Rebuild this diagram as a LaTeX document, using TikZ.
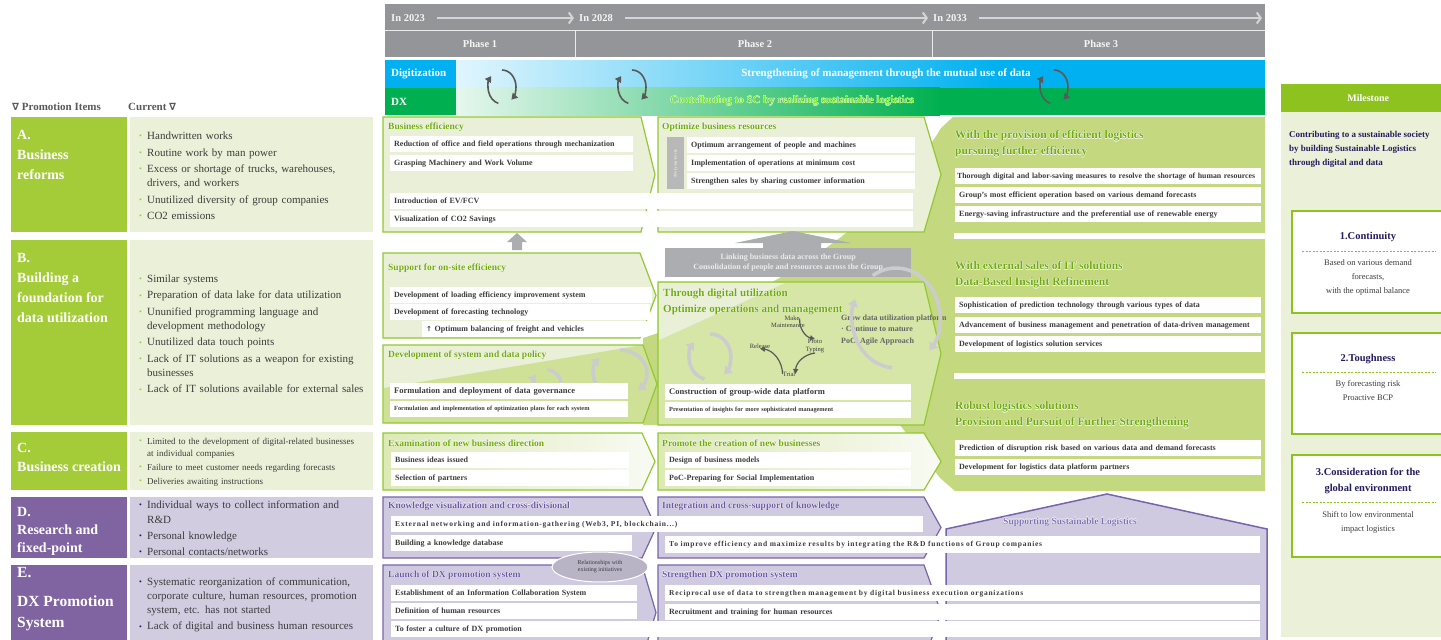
\documentclass[tikz,border=0pt]{standalone}
\usepackage{fontspec}
\setmainfont{Liberation Serif}
\newfontfamily\symfont{DejaVu Sans}
\newfontfamily\spfont[LetterSpace=10]{Liberation Serif}
\usetikzlibrary{arrows.meta,shapes.geometric}
\definecolor{hdrgray}{RGB}{147,149,152}
\definecolor{tlgray}{RGB}{212,213,215}
\definecolor{digblue}{RGB}{0,176,240}
\definecolor{dxgreen}{RGB}{0,176,80}
\definecolor{dxtxt}{RGB}{110,230,50}
\definecolor{labgreen}{RGB}{164,204,57}
\definecolor{curgreen}{RGB}{235,241,216}
\definecolor{labpurple}{RGB}{128,100,162}
\definecolor{curpurple}{RGB}{209,204,224}
\definecolor{pangreen}{RGB}{233,240,215}
\definecolor{darkpan}{RGB}{206,225,150}
\definecolor{edgegreen}{RGB}{146,200,50}
\definecolor{titgreen}{RGB}{112,170,14}
\definecolor{p3green}{RGB}{196,217,127}
\definecolor{panpurple}{RGB}{207,202,224}
\definecolor{edgepurple}{RGB}{120,100,170}
\definecolor{titpurple}{RGB}{108,86,165}
\definecolor{msgreen}{RGB}{141,194,31}
\definecolor{navy}{RGB}{36,28,96}
\definecolor{txtgray}{RGB}{60,60,60}
\definecolor{ringgray}{RGB}{204,204,207}
\definecolor{arrgray}{RGB}{172,173,176}
\tikzstyle{hdr}=[inner sep=0, text=white!96!black, font=\fontsize{10.5}{12}\selectfont\bfseries]
\tikzstyle{tline}=[tlgray, line width=2pt, -{Straight Barb[length=4pt,width=11pt]}]
\tikzstyle{rowtag}=[anchor=north west, inner xsep=6pt, inner ysep=0, text width=59pt, minimum height=27.5pt, align=left, text=white, font=\fontsize{11}{12}\selectfont\bfseries]
\tikzstyle{rowlab}=[anchor=north west, inner sep=0, align=left, text=white, font=\fontsize{14}{20}\selectfont\bfseries]
\tikzstyle{cur}=[anchor=west, inner sep=0, text width=228pt, align=left, text=txtgray, font=\fontsize{11}{14}\selectfont, execute at begin node={\setlength{\parskip}{2.5pt}}]
\tikzstyle{panel}=[draw=edgegreen, line width=1.2pt]
\tikzstyle{ppanel}=[draw=edgepurple, line width=1.2pt, fill=panpurple]
\tikzstyle{ttl}=[anchor=west, inner sep=0, text=titgreen, font=\fontsize{9.5}{11}\selectfont\bfseries]
\tikzstyle{bigttl}=[anchor=west, inner sep=0, align=left, text=titgreen, font=\fontsize{11.5}{16}\selectfont\bfseries]
\tikzstyle{ring}=[ringgray, line width=3.5pt, -{Triangle[length=7pt,width=10pt]}]
\tikzstyle{icon}=[black!65, line width=1.6pt, -{Triangle[length=6pt,width=7pt]}]
\tikzstyle{cyc}=[black!65, line width=1.2pt, -{Triangle[length=5pt,width=5pt]}]
\tikzstyle{tiny}=[inner sep=0, text=txtgray, align=center, font=\fontsize{6.5}{8}\selectfont]
\tikzstyle{msbox}=[draw=msgreen, line width=2pt, fill=white]
\tikzstyle{mshead}=[text=navy, align=center, font=\fontsize{10.5}{16}\selectfont\bfseries]
\tikzstyle{mstext}=[text=txtgray, align=center, font=\fontsize{8.5}{14}\selectfont]
\tikzset{wbox/.style={fill=white, anchor=north west, inner xsep=4pt, inner ysep=0pt, minimum height=16pt, text width=#1, align=left, text=txtgray, font=\fontsize{8}{9}\selectfont\bfseries}}
\newcommand{\glow}[1]{\leavevmode\rlap{\textcolor{white}{\kern-.3pt#1}}\rlap{\textcolor{white}{\kern.3pt#1}}\rlap{\textcolor{white}{\raisebox{.3pt}{#1}}}\rlap{\textcolor{white}{\raisebox{-.3pt}{#1}}}#1}
\newcommand{\bul}[2]{\par\hangindent=8pt\hangafter=1\noindent\makebox[8pt][l]{\textcolor{#1}{\raisebox{.8pt}{\fontsize{8}{8}\selectfont\textbullet}}}#2}
\newcommand{\chevron}[6]{\path[#1] (#2,#3) -- (#4,#3) -- (#5,{(#3+#6)/2}) -- (#4,#6) -- (#2,#6) -- cycle;}
\newcommand{\twirl}[5]{%
  \draw[#1] (#2,#3) ++(255:#4pt and #5pt) arc[start angle=255, end angle=140, x radius=#4pt, y radius=#5pt];
  \draw[#1] (#2,#3) ++(90:#4pt and #5pt) arc[start angle=90, end angle=-48, x radius=#4pt, y radius=#5pt];}

\begin{document}
\begin{tikzpicture}[x=1pt,y=-1pt]
\useasboundingbox (0,0) rectangle (1441,640);

% time line and phases
\fill[hdrgray] (385,4) rectangle (1265,57);
\draw[white!80!hdrgray, line width=1.2pt] (385,30.5) -- (1265,30.5);
\draw[white!80!hdrgray, line width=.8pt] (575,31) -- (575,57) (932,31) -- (932,57);
\node[hdr, anchor=west] (y23) at (391,18) {In 2023};
\node[hdr, anchor=west] (y28) at (579,18) {In 2028};
\node[hdr, anchor=west] (y33) at (933,18) {In 2033};
\coordinate (yend) at (1262,18);
\draw[tline] ([xshift=12pt]y23.east) -- ([xshift=-5pt]y28.west);
\draw[tline] ([xshift=12pt]y28.east) -- ([xshift=-5pt]y33.west);
\draw[tline] ([xshift=12pt]y33.east) -- (yend);
\node[hdr] (ph1) at (480,44) {Phase 1};
\node[hdr] (ph2) at (755,44) {Phase 2};
\node[hdr] (ph3) at (1101,44) {Phase 3};

% digitization and DX bands
\shade[left color=digblue!12, right color=digblue] (456,60) rectangle (1000,87.5);
\fill[digblue] (1000,60) rectangle (1265,87.5);
\shade[left color=dxgreen!10, right color=dxgreen] (456,87.5) rectangle (940,115);
\fill[dxgreen] (940,87.5) rectangle (1265,115);
\node[rowtag, fill=digblue] (dig) at (385,60) {Digitization};
\node[rowtag, fill=dxgreen] (dx) at (385,87.5) {DX};
\node[text=white, font=\fontsize{11}{12}\selectfont\bfseries] (digtxt) at (886,74) {Strengthening of management through the mutual use of data};
\node[text=dxtxt, font=\fontsize{11}{12}\selectfont\bfseries] (dxtxt) at (792,101) {\glow{Contributing to SC by realizing sustainable logistics}};
\twirl{icon}{502}{87}{14}{17}
\twirl{icon}{632}{87}{14}{17}
\twirl{icon}{1054}{87}{14}{17}

% promotion items
\node[anchor=west, inner sep=0, text=black!65, font=\fontsize{11}{12}\selectfont\bfseries] (hitems) at (12,107) {{\symfont\fontsize{10}{12}\selectfont∇} Promotion Items};
\node[anchor=west, inner sep=0, text=black!65, font=\fontsize{11}{12}\selectfont\bfseries] (hcur) at (128,107) {Current {\symfont\fontsize{10}{12}\selectfont∇}};
\fill[labgreen] (11,117) rectangle (127,232);
\fill[curgreen] (130,117) rectangle (373,232);
\fill[labgreen] (11,240) rectangle (127,425);
\fill[curgreen] (130,240) rectangle (373,425);
\fill[labgreen] (11,432) rectangle (127,490);
\fill[curgreen] (130,432) rectangle (373,490);
\fill[labpurple] (11,497) rectangle (127,558);
\fill[curpurple] (130,497) rectangle (373,558);
\fill[labpurple] (11,565) rectangle (127,645);
\fill[curpurple] (130,565) rectangle (373,645);
\node[rowlab] (la) at (17,130) {A.\\Business\\reforms};
\node[rowlab] (lb) at (17,253) {B.\\Building a\\foundation for\\data utilization};
\node[rowlab] (lc) at (17,443) {C.\\[-1pt]Business creation};
\node[rowlab, font=\fontsize{14}{18}\selectfont\bfseries] (ld) at (17,507) {D.\\Research and\\fixed-point};
\node[rowlab, font=\fontsize{15.5}{21}\selectfont\bfseries] (le) at (17,567) {E.\\[8pt]DX Promotion\\System};

\node[cur] (ca) at (139,171.5) {\bul{labgreen}{Handwritten works}\bul{labgreen}{Routine work by man power}\bul{labgreen}{Excess or shortage of trucks, warehouses,\newline drivers, and workers}\bul{labgreen}{Unutilized diversity of group companies}\bul{labgreen}{CO2 emissions}};
\node[cur] (cb) at (139,329.5) {\bul{labgreen}{Similar systems}\bul{labgreen}{Preparation of data lake for data utilization}\bul{labgreen}{Ununified programming language and\newline development methodology}\bul{labgreen}{Unutilized data touch points}\bul{labgreen}{Lack of IT solutions as a weapon for existing\newline businesses}\bul{labgreen}{Lack of IT solutions available for external sales}};
\node[cur, font=\fontsize{9}{12}\selectfont, execute at begin node={\setlength{\parskip}{2pt}}] (cc) at (139,458.5) {\bul{labgreen}{Limited to the development of digital-related businesses\newline at individual companies}\bul{labgreen}{Failure to meet customer needs regarding forecasts}\bul{labgreen}{Deliveries awaiting instructions}};
\node[cur, font=\fontsize{11}{14.5}\selectfont, execute at begin node={\setlength{\parskip}{1.5pt}}] (cd) at (139,524) {\bul{navy}{Individual ways to collect information and\newline R\&D}\bul{navy}{Personal knowledge}\bul{navy}{Personal contacts/networks}};
\node[cur, font=\fontsize{11}{14}\selectfont] (ce) at (139,600.5) {\bul{navy}{Systematic reorganization of communication,\newline corporate culture, human resources, promotion\newline system, etc. has not started}\bul{navy}{Lack of digital and business human resources}};

% phase 3 background
\fill[p3green] (643,425) -- (643,338) .. controls (760,300) and (880,230) .. (941,128) -- (953,117) -- (1265,117) -- (1265,491) -- (955,491) -- (940,478) -- (900,425) -- cycle;
\fill[white] (954,233) rectangle (1265,239);
\fill[white] (954,373) rectangle (1265,379);
\draw[ppanel, line width=1.5pt] (946,650) -- (946,529) -- (1107,494) -- (1267,529) -- (1267,650);

% phase panels
\chevron{panel, fill=pangreen}{383}{117}{641}{655}{232}
\chevron{panel, fill=pangreen}{658}{117}{924}{941}{232}
\chevron{panel, fill=pangreen}{383}{253}{640}{656}{338}
\chevron{fill=pangreen}{383}{345}{643}{657}{423}
\fill[darkpan] (384,388) -- (643,345) -- (657,384) -- (643,423) -- (384,423) -- cycle;
\chevron{panel}{383}{345}{643}{657}{423}
\chevron{fill=darkpan!85!white}{658}{282}{924}{941}{425}
\fill[pangreen] (659,283) -- (785,283) -- (659,340) -- cycle;
\chevron{panel}{658}{282}{924}{941}{425}
\chevron{panel, left color=darkpan!70!white, right color=white!70!pangreen}{383}{433}{642}{655}{490}
\chevron{panel, left color=darkpan!70!white, right color=white!70!pangreen}{658}{433}{924}{941}{490}
\chevron{ppanel}{383}{497}{642}{656}{558}
\chevron{ppanel}{658}{497}{924}{941}{558}
\chevron{ppanel}{383}{565}{642}{656}{660}
\chevron{ppanel}{658}{565}{924}{941}{660}

% rings behind the boxes
\twirl{ring}{547}{384}{14}{14}
\twirl{ring}{620}{373}{27}{23}
\twirl{ring}{710}{357}{21}{23}

% panel titles
\node[ttl] (t1a) at (388,127) {\glow{Business efficiency}};
\node[ttl] (t2a) at (662,127) {\glow{Optimize business resources}};
\node[ttl] (t1b) at (388,268) {\glow{Support for on-site efficiency}};
\node[ttl] (t1c) at (388,355) {\glow{Development of system and data policy}};
\node[bigttl, font=\fontsize{11}{16}\selectfont\bfseries] (t2b) at (663,302) {\glow{Through digital utilization}\\\glow{Optimize operations and management}};
\node[ttl] (t1d) at (388,443) {\glow{Examination of new business direction}};
\node[ttl] (t2d) at (662,443) {\glow{Promote the creation of new businesses}};
\node[ttl, text=titpurple] (t1e) at (388,506) {\glow{Knowledge visualization and cross-divisional}};
\node[ttl, text=titpurple] (t2e) at (662,506) {\glow{Integration and cross-support of knowledge}};
\node[ttl, text=titpurple] (t1f) at (388,575) {\glow{Launch of DX promotion system}};
\node[ttl, text=titpurple] (t2f) at (662,575) {\glow{Strengthen DX promotion system}};
\node[bigttl] (t3a) at (955,144) {\glow{With the provision of efficient logistics}\\\glow{pursuing further efficiency}};
\node[bigttl] (t3b) at (955,275) {\glow{With external sales of IT solutions}\\\glow{Data-Based Insight Refinement}};
\node[bigttl] (t3c) at (955,415) {\glow{Robust logistics solutions}\\\glow{Provision and Pursuit of Further Strengthening}};
\node[text=titpurple!85!white, font=\fontsize{9.5}{11}\selectfont\bfseries] (sup) at (1070,522) {\glow{Supporting Sustainable Logistics}};

% row A boxes
\node[wbox=235pt] (a11) at (390,136) {Reduction of office and field operations through mechanization};
\node[wbox=235pt] (a12) at (390,155) {Grasping Machinery and Work Volume};
\node[wbox=515pt] (a13) at (390,193) {Introduction of EV/FCV};
\node[wbox=515pt] (a14) at (390,211) {Visualization of CO2 Savings};
\node[fill=black!28, anchor=north west, minimum width=17, minimum height=52, inner sep=0] (acr) at (667,137) {};
\node[rotate=-90, inner sep=0, text=white, font=\fontsize{4}{4}\selectfont] (acrtxt) at (acr.center) {Across the Group};
\node[wbox=220pt] (a21) at (687,137) {Optimum arrangement of people and machines};
\node[wbox=220pt] (a22) at (687,155) {Implementation of operations at minimum cost};
\node[wbox=220pt] (a23) at (687,173) {Strengthen sales by sharing customer information};
\node[wbox=302pt, inner xsep=2pt, font=\fontsize{7.8}{9}\selectfont\bfseries] (a31) at (955,168) {Thorough digital and labor-saving measures to resolve the shortage of human resources};
\node[wbox=298pt] (a32) at (955,187) {Group's most efficient operation based on various demand forecasts};
\node[wbox=298pt] (a33) at (955,206) {Energy-saving infrastructure and the preferential use of renewable energy};

% row B boxes
\node[wbox=254pt] (b11) at (390,287) {Development of loading efficiency improvement system};
\node[wbox=252pt] (b12) at (390,304) {Development of forecasting technology};
\node[wbox=217pt] (b13) at (422,321) {{\symfont\fontsize{7}{9}\selectfont↑} Optimum balancing of freight and vehicles};
\node[wbox=230pt, font=\fontsize{8.5}{9}\selectfont\bfseries] (b14) at (390,383) {Formulation and deployment of data governance};
\node[wbox=230pt, font=\fontsize{6.3}{8}\selectfont\bfseries] (b15) at (390,401) {Formulation and implementation of optimization plans for each system};
\node[wbox=238pt, font=\fontsize{8.5}{9}\selectfont\bfseries] (b21) at (665,384) {Construction of group-wide data platform};
\node[wbox=238pt, font=\fontsize{6.3}{8}\selectfont\bfseries] (b22) at (665,402) {Presentation of insights for more sophisticated management};
\node[wbox=298pt] (b31) at (955,297) {Sophistication of prediction technology through various types of data};
\node[wbox=298pt] (b32) at (955,317) {Advancement of business management and penetration of data-driven management};
\node[wbox=298pt] (b33) at (955,336) {Development of logistics solution services};

% gray arrows
\fill[arrgray] (512,250) -- (512,242) -- (507,242) -- (517,233) -- (527,242) -- (522,242) -- (522,250) -- cycle;
\fill[arrgray] (763,249) -- (763,243) -- (735,243) -- (793,231) -- (851,243) -- (821,243) -- (821,249) -- cycle;
\node[fill=arrgray, anchor=north west, minimum width=246, minimum height=29, inner sep=0, align=center, text=white!92!black, font=\fontsize{8}{10}\selectfont\bfseries] (link) at (665,248) {Linking business data across the Group\\Consolidation of people and resources across the Group};

% agile cycle
\node[tiny] (make) at (792,318.5) {Make};
\node[tiny] (maint) at (788,325.5) {Maintenance};
\node[tiny] (proto) at (815,346) {Proto\\Typing};
\node[tiny] (trial) at (789,374) {Trial};
\node[tiny] (rel) at (760,346) {Release};
\draw[cyc] (make.east) to[bend right=40] (proto.north);
\draw[cyc] (proto.south) to[bend right=40] (trial.east);
\draw[cyc] (trial.west) to[bend right=40] (rel.south);
\node[anchor=west, inner sep=0, align=left, text=black!60, font=\fontsize{8}{11.5}\selectfont\bfseries] (grow) at (841,330) {Grow data utilization platform\\ \textperiodcentered\ Continue to mature\\PoC/ Agile Approach};
\draw[ring] (896,318) ++(265:44pt and 50pt) arc[start angle=265, end angle=158, x radius=44pt, y radius=50pt];
\draw[ring] (896,318) ++(122:44pt and 50pt) arc[start angle=122, end angle=-40, x radius=44pt, y radius=50pt];

% row C boxes
\node[wbox=230pt] (c11) at (391,452) {Business ideas issued};
\node[wbox=230pt] (c12) at (391,470) {Selection of partners};
\node[wbox=238pt] (c21) at (665,452) {Design of business models};
\node[wbox=238pt] (c22) at (665,470) {PoC-Preparing for Social Implementation};
\node[wbox=298pt] (c31) at (955,440) {Prediction of disruption risk based on various data and demand forecasts};
\node[wbox=298pt] (c32) at (955,459) {Development for logistics data platform partners};

% rows D and E boxes
\node[wbox=524pt, font=\fontsize{7.5}{9}\spfont\bfseries] (d11) at (391,516) {External networking and information-gathering (Web3, PI, blockchain...)};
\node[wbox=233pt] (d12) at (391,535) {Building a knowledge database};
\node[wbox=587pt, minimum height=17pt, font=\fontsize{7.5}{9}\spfont\bfseries] (d21) at (665,536) {To improve efficiency and maximize results by integrating the R\&D functions of Group companies};
\node[ellipse, fill=panpurple!85!black!90!white, draw=white, line width=1pt, minimum width=96, minimum height=30, inner sep=0, align=center, text=txtgray, font=\fontsize{6}{7}\selectfont] (relat) at (600,567) {Relationships with\\existing initiatives};
\node[wbox=238pt] (e11) at (391,585) {Establishment of an Information Collaboration System};
\node[wbox=238pt] (e12) at (391,603) {Definition of human resources};
\node[wbox=861pt] (e13) at (391,621) {To foster a culture of DX promotion};
\node[wbox=587pt, font=\fontsize{7.5}{9}\spfont\bfseries] (e21) at (665,585) {Reciprocal use of data to strengthen management by digital business execution organizations};
\node[wbox=587pt] (e22) at (665,604) {Recruitment and training for human resources};

% milestone
\fill[curgreen] (1281,112) rectangle (1460,637);
\node[fill=msgreen, anchor=north west, minimum width=174, minimum height=28, inner sep=0, text=white, font=\fontsize{10}{12}\selectfont\bfseries] (ms) at (1281,84) {Milestone};
\node[anchor=north west, inner sep=0, align=left, text=navy, font=\fontsize{9}{14}\selectfont\bfseries] (msgoal) at (1289,131) {Contributing to a sustainable society\\by building Sustainable Logistics\\through digital and data};
\draw[msbox] (1292,211) rectangle (1460,313);
\draw[msbox] (1292,333) rectangle (1460,434);
\draw[msbox] (1292,455) rectangle (1460,557);
\draw[msgreen, line width=.8pt, dash pattern=on 2pt off 1.5pt] (1302,251) -- (1436,251) (1302,372) -- (1436,372) (1302,502) -- (1436,502);
\node[mshead] (m1) at (1368,237) {1.Continuity};
\node[mstext] (m1t) at (1368,277) {Based on various demand\\forecasts,\\with the optimal balance};
\node[mshead] (m2) at (1368,359) {2.Toughness};
\node[mstext] (m2t) at (1368,391) {By forecasting risk\\Proactive BCP};
\node[mshead] (m3) at (1368,481) {3.Consideration for the\\global environment};
\node[mstext] (m3t) at (1368,522) {Shift to low environmental\\impact logistics};
\end{tikzpicture}
\end{document}
